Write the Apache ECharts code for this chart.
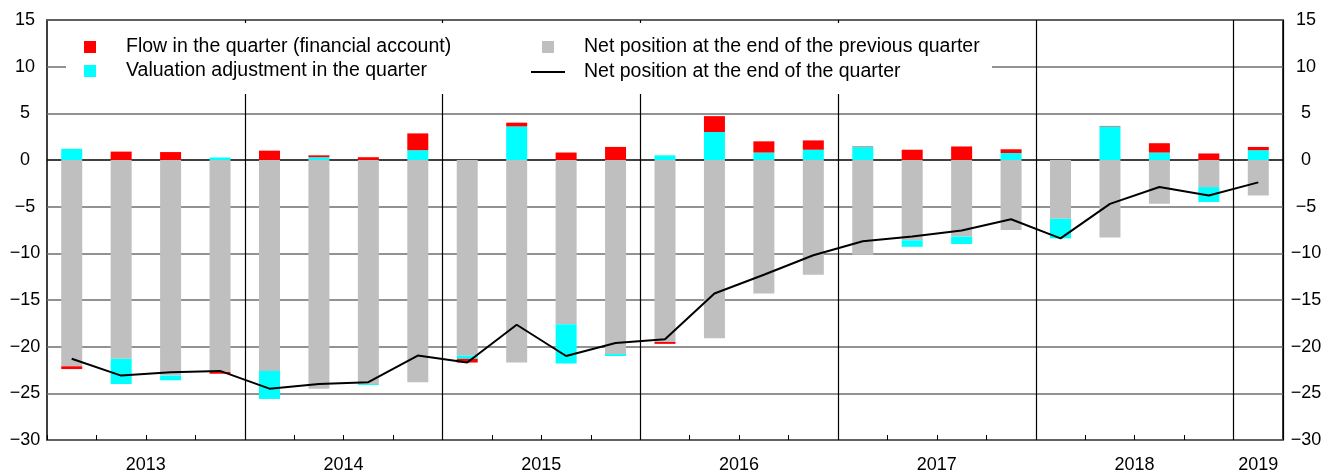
<!DOCTYPE html>
<html>
<head>
<meta charset="utf-8">
<script src="https://cdn.jsdelivr.net/npm/echarts@6/dist/echarts.min.js"></script>
<style>
  html, body { margin: 0; padding: 0; background: #fff; }
  #chart { width: 1337px; height: 470px; }
</style>
</head>
<body>
<div id="chart"></div>
<script>
var years = ['2013', '2014', '2015', '2016', '2017', '2018', '2019'];
var quarters = [];
years.forEach(function (y) {
  ['Q1', 'Q2', 'Q3', 'Q4'].forEach(function (q) { quarters.push(y + ' ' + q); });
});
quarters = quarters.slice(0, 25);

// net position at the end of the previous quarter
var prevPosition = [-22.1, -21.3, -23.1, -22.7, -22.6, -24.5, -24.0, -23.8,
  -20.95, -21.7, -17.6, -20.8, -19.5, -19.1, -14.3, -12.3,
  -10.15, -8.6, -8.2, -7.5, -6.3, -8.3, -4.7, -2.9, -3.8];
// valuation adjustment in the quarter
var valuation = [1.2, -2.7, -0.5, 0.27, -3.0, 0.3, -0.1, 1.05,
  -0.35, 3.6, -4.2, -0.2, 0.5, 3.0, 0.8, 1.1,
  1.4, -0.7, -0.8, 0.75, -2.1, 3.6, 0.8, -1.6, 1.05];
// flow in the quarter (financial account)
var flow = [-0.3, 0.9, 0.85, -0.2, 1.0, 0.2, 0.3, 1.8,
  -0.4, 0.4, 0.8, 1.4, -0.2, 1.7, 1.2, 1.0,
  0.05, 1.1, 1.45, 0.4, 0, 0.05, 1.0, 0.7, 0.35];
// net position at the end of the quarter
var endPosition = [-21.3, -23.1, -22.75, -22.6, -24.5, -24.0, -23.8, -20.95,
  -21.7, -17.65, -21.0, -19.6, -19.2, -14.3, -12.3, -10.2,
  -8.7, -8.2, -7.55, -6.35, -8.4, -4.7, -2.9, -3.8, -2.4];

var FONT = 'Liberation Sans, Arial, sans-serif';
var chart = echarts.init(document.getElementById('chart'));

function minus(v) { return String(v).replace('-', '\u2212'); }

// split line colours: zero line black, others grey (ticks -30..15)
var splitColors = [];
for (var t = -30; t <= 15; t += 5) splitColors.push(t === 0 ? '#000' : '#6e6e6e');

var legendText = { fontFamily: FONT, fontSize: 19.5, color: '#000', padding: [0, 0, 0, 25] };

chart.setOption({
  animation: false,
  backgroundColor: '#fff',
  grid: {
    left: 47, right: 54, top: 20, bottom: 30, outerBoundsMode: 'none',
    show: true, borderColor: '#000', borderWidth: 1.5, backgroundColor: 'transparent'
  },
  graphic: [{
    type: 'rect', z: 3, silent: true,
    shape: { x: 66, y: 23, width: 926, height: 71 },
    style: { fill: '#fff' }
  }],
  legend: [{
    orient: 'vertical', left: 84, top: 37, itemWidth: 12, itemHeight: 12, itemGap: 4,
    padding: 0, z: 10, selectedMode: false,
    data: ['Flow in the quarter (financial account)', 'Valuation adjustment in the quarter'],
    icon: 'rect', textStyle: legendText
  }, {
    orient: 'vertical', left: 542, top: 37, itemWidth: 12, itemHeight: 12,
    padding: 0, z: 10, selectedMode: false,
    data: ['Net position at the end of the previous quarter'],
    icon: 'rect', textStyle: legendText
  }, {
    orient: 'vertical', left: 531, top: 62, itemWidth: 34, itemHeight: 2,
    padding: 0, z: 10, selectedMode: false,
    data: [{ name: 'Net position at the end of the quarter', icon: 'rect' }],
    textStyle: { fontFamily: FONT, fontSize: 19.5, color: '#000', padding: [0, 0, 0, 14] }
  }],
  xAxis: {
    type: 'category',
    data: quarters,
    boundaryGap: true,
    axisLine: { show: false, onZero: false },
    axisTick: { show: true, inside: true, length: 5, interval: 0, lineStyle: { color: '#000', width: 1 } },
    splitLine: {
      show: true,
      interval: function (i) { return i > 0 && i % 4 === 0; },
      lineStyle: { color: '#000', width: 1.2 }
    },
    axisLabel: {
      interval: function (i) { return i % 4 === 1 || (i === quarters.length - 1 && i % 4 === 0); },
      margin: 16,
      formatter: function (v, i) {
        var y = v.split(' ')[0];
        return i % 4 === 1 ? '{s|' + y + '}' : '{p|' + y + '}';
      },
      rich: {
        s: { fontFamily: FONT, fontSize: 18, color: '#000', padding: [0, 0, 0, 49] },
        p: { fontFamily: FONT, fontSize: 18, color: '#000' }
      }
    }
  },
  yAxis: [{
    type: 'value', min: -30, max: 15, interval: 5,
    axisLine: { show: false }, axisTick: { show: false },
    splitLine: { show: true, lineStyle: { color: splitColors, width: 1.5 } },
    axisLabel: { fontFamily: FONT, fontSize: 18, color: '#000', align: 'center', margin: 22, formatter: minus }
  }, {
    type: 'value', min: -30, max: 15, interval: 5, position: 'right',
    axisLine: { show: false }, axisTick: { show: false }, splitLine: { show: false },
    axisLabel: { fontFamily: FONT, fontSize: 18, color: '#000', align: 'center', margin: 23, formatter: minus }
  }],
  series: [{
    name: 'Net position at the end of the previous quarter',
    type: 'bar', stack: 'pos', barWidth: 21,
    itemStyle: { color: '#bfbfbf' },
    data: prevPosition
  }, {
    name: 'Valuation adjustment in the quarter',
    type: 'bar', stack: 'pos', barWidth: 21,
    itemStyle: { color: '#00ffff' },
    data: valuation
  }, {
    name: 'Flow in the quarter (financial account)',
    type: 'bar', stack: 'pos', barWidth: 21,
    itemStyle: { color: '#ff0000' },
    data: flow
  }, {
    name: 'Net position at the end of the quarter',
    type: 'line', symbol: 'none', z: 5,
    itemStyle: { color: '#000' },
    lineStyle: { color: '#000', width: 2 },
    data: endPosition
  }]
});
</script>
</body>
</html>
